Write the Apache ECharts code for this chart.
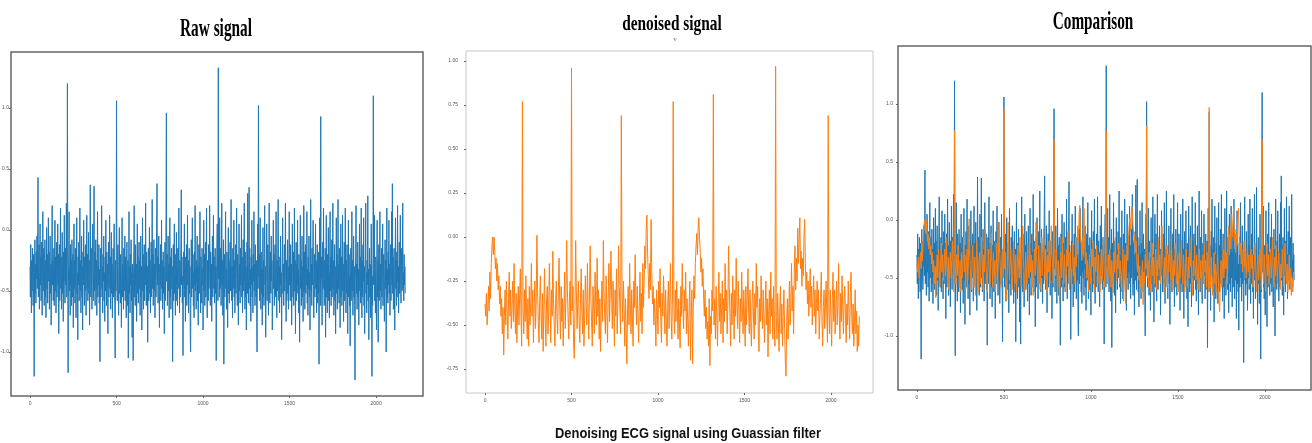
<!DOCTYPE html>
<html>
<head>
<meta charset="utf-8">
<script src="https://cdn.jsdelivr.net/npm/echarts@6/dist/echarts.min.js"></script>
<style>
  html, body { margin: 0; padding: 0; background: #fff; }
  #chart { width: 1312px; height: 443px; }
</style>
</head>
<body>
<div id="chart"></div>
<script>
// ECG trace, raw recording (one value every RAW_STEP samples)
const RAW_STEP = 2;
const rawSignal = [
  -0.30, -0.55, -0.12, -0.42, -0.68, -0.25, -0.50, -0.15, -0.38, -0.62, -0.20, -0.45, -1.20, -0.35, -0.08, -0.52, -0.28, -0.60, -0.18, -0.40,
  -0.05, -0.48, -0.25, 0.43, -0.55, -0.30, -0.12, -0.65, -0.35, 0.05, -0.45, -0.22, -0.58, -0.10, -0.38, -0.70, -0.28, 0.15, -0.50, -0.32,
  -0.15, -0.62, -0.40, -0.08, -0.55, -0.25, -0.72, -0.35, 0.02, -0.48, -0.20, -0.60, -0.30, 0.10, -0.42, -0.18, -0.65, -0.38, -0.05, -0.52,
  -0.28, -0.78, -0.40, -0.12, 0.20, -0.45, -0.25, -0.58, -0.35, -0.15, -0.62, -0.30, 0.08, -0.50, -0.22, -0.68, -0.40, -0.10, -0.55, -0.32,
  0.05, -0.45, -0.20, -0.85, -0.38, -0.12, -0.58, -0.28, 0.18, -0.48, -0.22, -0.65, -0.35, -0.02, -0.52, -0.30, -0.75, -0.18, -0.42, 0.12,
  -0.38, -0.60, -0.15, -0.45, -0.28, 0.22, -0.55, -0.20, 1.20, -0.30, -1.17, -0.42, -0.18, 0.15, -0.50, -0.32, -0.70, -0.12, -0.45, -0.25,
  -0.62, -0.08, -0.38, -0.55, -0.20, -0.80, -0.35, 0.05, -0.48, -0.25, -0.60, -0.15, -0.42, -0.72, -0.28, 0.10, -0.52, -0.35, -0.90, -0.22,
  -0.45, -0.10, -0.58, -0.32, 0.18, -0.50, -0.25, -0.68, -0.40, -0.05, -0.55, -0.30, -0.82, -0.18, -0.45, 0.08, -0.38, -0.62, -0.22, -0.50,
  -0.12, -0.40, -0.70, -0.28, 0.12, -0.48, -0.20, -0.58, -0.35, -0.02, -0.52, -0.25, -0.78, -0.40, 0.37, -0.30, -0.55, -0.15, -0.45, -0.65,
  -0.22, 0.05, -0.42, -0.58, -0.28, 0.36, -0.50, -0.18, -0.62, -0.35, -0.08, -0.48, -0.25, -0.70, -0.38, 0.15, -0.55, -0.30, -0.45, -0.12,
  -0.60, -0.32, -1.08, -0.40, -0.15, -0.55, -0.25, 0.20, -0.48, -0.30, -0.68, -0.20, -0.42, -0.05, -0.58, -0.35, -0.75, -0.22, -0.50, 0.08,
  -0.38, -0.62, -0.18, -0.45, -0.28, -0.85, -0.40, -0.10, -0.55, -0.30, 0.12, -0.48, -0.22, -0.65, -0.35, -0.02, -0.52, -0.28, -0.72, -0.42,
  -0.15, -0.55, -0.32, 0.05, -0.45, -0.62, -1.05, -0.25, -0.50, -0.18, 1.06, -0.40, -0.58, -0.30, -0.12, -0.48, -0.70, -0.25, 0.02, -0.52,
  -0.35, -0.60, -0.20, -0.45, -0.80, -0.30, 0.10, -0.55, -0.28, -0.42, -0.65, -0.15, -0.50, -0.35, -0.05, -0.58, -0.22, -0.48, -0.72, -0.32,
  -0.10, -0.45, -0.62, -0.25, -1.05, -0.38, 0.15, -0.52, -0.30, -0.68, -0.20, -0.45, -0.08, -0.58, -0.35, -0.88, -0.28, -0.50, -1.07, -0.40,
  -0.18, 0.20, -0.55, -0.32, -0.62, -0.12, -0.45, -0.28, -0.75, -0.40, 0.05, -0.52, -0.22, -0.60, -0.35, -0.10, -0.48, -0.25, -0.70, -0.38,
  -0.05, -0.55, -0.30, -0.82, -0.42, 0.10, -0.50, -0.20, -0.65, -0.35, -0.12, -0.58, -0.28, -0.45, 0.22, -0.40, -0.62, -0.18, -0.50, -0.30,
  -0.92, -0.45, -0.15, -0.58, -0.35, 0.02, -0.52, -0.25, -0.68, -0.40, -0.10, -0.55, -0.30, 0.25, -0.48, -0.20, -0.62, -0.38, -0.08, -0.50,
  -0.28, -0.72, -0.42, -0.15, -0.55, -0.32, 0.12, 0.38, -0.45, -0.22, -0.60, -0.35, -0.05, -0.50, -0.80, -0.28, -0.45, -0.12, -0.58, -0.38,
  0.08, -0.48, -0.25, -0.65, -0.40, -0.18, -0.52, -0.30, -0.85, -0.45, -0.10, -0.58, -0.32, 0.15, 0.96, -0.42, -0.20, -0.62, -0.35, -0.05,
  -0.50, -0.28, -0.72, -0.40, 0.10, -0.55, -0.22, -0.65, -0.35, -0.15, -0.48, -0.30, -1.08, -0.45, -0.12, -0.58, -0.25, 0.05, -0.52, -0.38,
  -0.70, -0.20, -0.45, -0.02, -0.58, -0.32, -0.62, -0.15, -0.48, -0.28, 0.18, -0.42, -0.68, -0.25, -0.55, -0.35, -0.10, 0.33, -0.45, -0.22,
  -0.60, -0.38, -1.03, -0.50, -0.18, -0.42, 0.05, -0.55, -0.30, -0.75, -0.22, -0.48, -0.12, -0.62, -0.35, 0.12, -0.45, -0.25, -0.68, -0.40,
  -0.15, -0.52, -0.30, -0.85, -1.00, -0.40, -0.08, -0.55, -0.28, 0.10, -0.48, -0.20, -0.62, -0.35, -0.72, -0.18, -0.45, 0.20, -0.50, -0.32,
  -0.65, -0.25, -0.42, -0.05, -0.58, -0.30, -0.78, -0.38, -0.12, -0.52, -0.25, 0.15, -0.48, -0.68, -0.22, -0.40, -0.60, -0.15, -0.45, -0.32,
  -0.82, -0.28, 0.08, -0.50, -0.20, -0.62, -0.38, -0.10, -0.55, -0.30, 0.18, -0.45, -0.72, -0.25, -0.40, -0.58, -0.12, -0.48, -0.35, 0.20,
  -0.30, -0.62, -0.18, -0.45, -0.28, -0.75, -0.40, -0.05, -0.55, -0.32, 0.12, -0.48, -0.22, -0.60, -0.38, -0.15, -0.52, -0.30, -1.07, -0.42,
  -0.12, 0.05, -0.35, -0.58, 1.33, -0.40, -0.22, -0.55, 0.10, -0.30, -0.48, -0.15, -0.62, -0.38, 0.22, -0.45, -0.25, -0.70, -0.32, -0.08,
  -1.10, -0.42, -0.20, -0.55, -0.28, 0.15, -0.48, -0.32, -0.65, -0.18, -0.45, -0.80, -0.30, 0.02, -0.52, -0.25, -0.60, -0.38, -0.10, -0.50,
  -0.22, 0.25, -0.45, -0.58, -0.30, -0.72, -0.15, -0.48, -0.35, 0.08, -0.55, -0.25, -0.68, -0.40, -0.12, -0.52, -0.30, 0.18, -0.45, -0.62,
  -0.20, -0.42, -0.78, -0.35, 0.05, -0.50, -0.28, -0.60, -0.15, -0.45, -0.32, 0.12, -0.55, -0.22, -0.68, -0.38, -0.08, -0.50, -0.30, 0.22,
  -0.42, -0.65, -0.18, -0.55, -0.30, -0.82, -0.40, -0.10, -0.52, 0.30, -0.35, -0.60, -0.25, 0.35, -0.48, -0.15, -0.62, -0.32, -0.75, -0.22,
  -0.45, 0.08, -0.55, -0.30, -0.68, -0.20, -0.42, 0.15, -0.50, -0.28, -0.62, -0.12, -0.40, -0.55, -0.25, -0.72, -1.00, -0.35, 0.05, -0.48,
  1.02, -0.38, -0.20, -0.58, -0.30, 0.10, -0.45, -0.65, -0.18, -0.52, -0.32, -0.78, -0.40, 0.02, -0.55, -0.25, -0.62, -0.15, 0.20, -0.45,
  -0.30, -0.88, -0.50, -0.22, 0.05, -0.58, -0.35, -0.12, -0.48, -0.70, -0.28, 0.22, -0.45, -0.60, -0.18, -0.38, -0.52, -0.05, -0.42, -0.25,
  -0.82, -0.55, -0.30, 0.08, -0.48, -0.20, -0.62, -0.38, -0.12, -0.55, -0.32, 0.15, -0.45, -0.72, -0.25, -0.50, -0.15, 0.25, -0.40, -0.58,
  -0.30, -0.68, -0.22, -0.45, -0.05, -0.55, -0.35, -0.90, -0.42, -0.18, 0.10, -0.52, -0.28, -0.62, -0.40, -0.12, -0.50, -0.32, 0.22, -0.45,
  -0.75, -0.25, -0.58, -0.38, -0.08, -0.52, -0.30, -0.65, -0.20, 0.15, -0.45, -0.35, -0.58, -0.12, -0.42, -0.28, -0.78, -0.48, 0.05, -0.30,
  -0.55, -0.18, -0.62, -0.40, 0.18, -0.50, -0.25, -0.85, -0.35, -0.10, -0.58, -0.28, -0.45, 0.08, -0.52, -0.32, -0.68, -0.20, -0.42, -0.92,
  -0.38, 0.12, -0.48, -0.25, -0.62, -0.35, -0.05, -0.55, -0.30, -0.75, -0.42, 0.20, -0.50, -0.18, -0.65, -0.38, -0.12, -0.52, -0.28, -0.45,
  0.15, -0.60, -0.32, -0.70, -0.22, -0.48, -0.05, -0.55, -0.35, -0.82, -0.40, 0.25, -0.50, -0.28, -0.62, -0.15, -0.45, -0.30, 0.08, -0.58,
  -0.72, -0.38, -0.20, -0.55, -0.32, 0.05, -0.48, -0.25, -0.68, -0.42, -0.12, -0.60, -0.30, -0.52, -0.18, -1.10, -0.45, 0.10, -0.35, -0.62,
  0.93, -0.40, -0.22, -0.55, -0.78, -0.32, -0.10, -0.48, 0.18, -0.38, -0.62, -0.25, -0.50, -0.15, -0.88, -0.42, 0.12, -0.55, -0.30, -0.68,
  -0.20, -0.45, 0.02, -0.58, -0.35, -0.72, -0.28, 0.15, -0.50, -0.22, -0.62, -0.40, -0.08, -0.55, -0.32, 0.22, -0.48, -0.25, -0.70, -0.38,
  -0.12, -0.58, -0.30, -0.85, -0.45, 0.10, -0.52, -0.20, -0.65, -0.35, 0.25, -0.48, -0.28, -0.60, -0.15, -0.42, -0.80, -0.32, 0.05, -0.55,
  -0.22, -0.62, -0.40, 0.12, -0.50, -0.28, -0.75, -0.35, -0.10, -0.58, -0.30, 0.18, -0.45, -0.68, -0.25, -0.52, -0.12, -0.40, -0.85, -0.30,
  0.08, -0.55, -0.20, -0.62, -0.38, -0.95, -0.45, -0.15, -0.58, -0.32, 0.15, -0.50, -0.25, -0.70, -0.40, -0.05, -0.55, -0.30, -0.62, -1.23,
  -0.42, -0.18, 0.20, -0.52, -0.28, -0.65, -0.38, -0.10, -0.55, -0.32, -0.78, -0.45, 0.05, -0.50, -0.22, -0.60, -0.35, 0.18, -0.48, -0.72,
  -0.25, -0.55, -0.12, -0.42, 0.10, -0.62, -0.30, -0.85, -0.48, -0.18, 0.22, -0.52, -0.35, -0.68, -0.25, -0.45, 0.28, -0.58, -0.32, -0.90,
  -0.40, -0.15, -0.55, -0.28, -0.72, -0.45, 0.05, -0.50, -1.20, -0.38, -0.62, -0.20, 1.10, -0.45, -0.30, 0.12, -0.58, -0.35, -0.68, -0.22,
  -0.48, -0.82, -0.30, 0.08, -0.55, -0.25, -0.92, -0.40, -0.12, -0.58, -0.35, 0.15, -0.50, -0.28, -0.65, -0.42, -0.15, -0.55, -0.32, 0.05,
  -0.62, -0.40, -0.20, -0.52, -0.75, -0.30, -0.08, -0.48, -0.25, -1.00, -0.42, 0.18, -0.55, -0.32, -0.60, -0.18, -0.45, 0.08, -0.52, -0.28,
  -0.70, -0.38, -0.12, -0.58, -0.30, 0.15, -0.45, 0.38, -0.52, -0.22, -0.65, -0.40, -0.15, -0.55, -0.82, -0.32, 0.10, -0.48, -0.25, -0.62,
  -0.18, -0.42, 0.20, -0.55, -0.30, -0.68, -0.38, -0.10, -0.52, -0.25, 0.12, -0.45, -0.60, -0.32, -0.15, -0.50, -0.28, 0.22, -0.48, -0.35,
  -0.58, -0.20, -0.45, -0.30, -0.52
];

// Same trace after the Gaussian filter (one value every DENOISED_STEP samples)
const DENOISED_STEP = 4;
const denoisedSignal = [
  -0.38, -0.45, -0.32, -0.50, -0.40, -0.28, -0.42, -0.20, -0.35, -0.15, -0.05, 0.00, -0.10, 0.00, -0.08, -0.18, -0.12, -0.25, -0.15, -0.30,
  -0.22, -0.38, -0.28, -0.45, -0.35, -0.55, -0.40, -0.67, -0.45, -0.30, -0.50, -0.25, -0.42, -0.58, -0.35, -0.20, -0.45, -0.30, -0.52, -0.38,
  -0.25, -0.48, -0.15, -0.40, -0.55, -0.32, -0.60, -0.42, -0.28, -0.50, -0.35, -0.18, -0.45, -0.62, 0.77, -0.40, -0.55, -0.30, -0.48, -0.22,
  -0.42, -0.58, -0.35, -0.62, -0.28, -0.50, -0.38, -0.15, -0.45, -0.30, -0.60, -0.40, -0.25, -0.52, -0.35, 0.01, -0.30, -0.48, -0.60, -0.38,
  -0.22, -0.45, -0.58, -0.32, -0.65, -0.40, -0.18, -0.48, -0.62, -0.35, -0.28, -0.55, -0.42, -0.15, -0.38, -0.60, -0.30, -0.45, -0.08, -0.35,
  -0.50, -0.62, -0.38, -0.25, -0.45, -0.55, -0.30, -0.12, -0.40, -0.58, -0.28, -0.48, -0.35, -0.62, -0.42, -0.20, -0.52, -0.32, -0.02, -0.30,
  -0.45, -0.58, -0.35, -0.25, -0.50, 0.96, -0.42, -0.28, -0.60, -0.69, -0.40, -0.02, -0.30, -0.52, -0.38, -0.25, -0.48, -0.60, -0.35, -0.18,
  -0.42, -0.55, -0.30, -0.62, -0.45, -0.22, -0.38, -0.50, -0.15, -0.42, -0.58, -0.30, -0.05, -0.35, -0.48, -0.62, -0.28, -0.40, -0.55, -0.20,
  -0.38, -0.50, -0.12, -0.45, -0.30, -0.58, -0.35, -0.65, -0.42, -0.25, -0.48, -0.02, -0.30, -0.45, -0.55, -0.22, -0.40, -0.60, -0.35, -0.15,
  -0.48, -0.30, -0.08, -0.35, -0.52, -0.25, -0.40, -0.62, -0.30, -0.45, -0.18, -0.55, -0.38, -0.05, -0.28, -0.42, -0.55, 0.69, -0.30, -0.48,
  -0.25, -0.40, -0.62, -0.35, -0.52, -0.72, -0.40, -0.28, -0.50, -0.15, -0.38, -0.55, -0.30, -0.45, -0.62, -0.25, -0.40, -0.10, -0.35, -0.50,
  -0.28, -0.45, -0.60, -0.38, -0.20, -0.48, -0.32, -0.55, -0.15, -0.40, -0.25, -0.05, -0.18, 0.05, 0.125, -0.10, -0.22, -0.35, -0.15, -0.30,
  0.10, -0.20, -0.38, -0.28, -0.50, -0.35, -0.45, -0.62, -0.30, -0.42, -0.55, -0.25, -0.40, -0.18, -0.48, -0.60, -0.32, -0.45, -0.22, -0.38,
  -0.55, -0.30, -0.48, -0.62, -0.40, -0.25, -0.52, -0.35, -0.15, -0.45, -0.58, -0.30, 0.77, -0.42, -0.55, -0.30, -0.48, -0.25, -0.40, -0.58,
  -0.35, -0.50, -0.63, -0.28, -0.45, -0.15, -0.38, -0.52, -0.30, -0.42, -0.20, -0.55, -0.35, -0.48, -0.62, -0.40, -0.25, -0.70, -0.45, -0.30,
  -0.72, -0.40, -0.22, -0.35, -0.15, -0.05, 0.02, -0.10, 0.05, 0.11, 0.00, -0.08, -0.20, -0.12, -0.28, -0.18, -0.35, -0.45, -0.30, -0.52,
  -0.40, -0.58, -0.48, -0.62, -0.35, -0.73, -0.45, -0.55, -0.30, -0.42, 0.81, -0.50, -0.35, -0.58, -0.28, -0.45, -0.62, -0.38, -0.20, -0.48,
  -0.32, -0.55, -0.40, -0.25, -0.60, -0.35, -0.48, -0.15, -0.42, -0.30, -0.55, -0.38, -0.05, -0.28, -0.45, -0.62, -0.32, -0.50, -0.22, -0.40,
  -0.58, -0.30, -0.45, -0.12, -0.38, -0.52, -0.25, -0.42, -0.60, -0.35, -0.48, -0.20, -0.40, -0.55, -0.30, -0.45, -0.62, -0.28, -0.50, -0.35,
  -0.18, -0.42, -0.55, -0.30, -0.48, -0.62, -0.38, -0.25, -0.45, -0.58, -0.32, -0.50, -0.15, -0.40, -0.28, -0.55, -0.65, -0.35, -0.48, -0.22,
  -0.40, -0.52, -0.30, -0.45, -0.60, -0.38, -0.25, -0.50, -0.35, -0.68, -0.42, -0.30, -0.55, -0.20, -0.45, -0.35, -0.58, -0.28, -0.48, -0.62,
  0.97, -0.45, -0.58, -0.32, -0.50, -0.65, -0.40, -0.28, -0.55, -0.38, -0.62, -0.45, -0.30, -0.52, -0.70, -0.79, -0.48, -0.35, -0.58, -0.42,
  -0.25, -0.50, -0.38, -0.15, -0.42, -0.28, -0.55, -0.20, -0.05, -0.30, -0.12, -0.25, 0.05, -0.15, -0.02, 0.11, -0.18, -0.08, -0.28, -0.12,
  -0.22, 0.00, 0.10, -0.15, -0.30, -0.20, -0.38, -0.25, -0.45, -0.32, -0.18, -0.40, -0.28, -0.50, -0.35, -0.22, -0.45, -0.30, -0.55, -0.38,
  -0.25, -0.42, -0.30, -0.58, -0.45, -0.35, -0.20, -0.48, -0.62, -0.40, -0.30, -0.52, -0.38, -0.25, -0.45, -0.60, 0.69, -0.42, -0.55, -0.30,
  -0.45, -0.62, -0.35, -0.20, -0.48, -0.30, -0.55, -0.40, -0.25, -0.50, -0.38, -0.15, -0.45, -0.58, -0.32, -0.48, -0.22, -0.40, -0.55, -0.35,
  -0.28, -0.45, -0.60, -0.38, -0.50, -0.25, -0.42, -0.58, -0.32, -0.20, -0.45, -0.55, -0.38, -0.62, -0.48, -0.30, -0.55, -0.42, -0.65, -0.50,
  -0.62, -0.45
];

// Tick labels
const xTicks = [0, 500, 1000, 1500, 2000];
const yTicksWide = [-1.0, -0.5, 0.0, 0.5, 1.0];
const yTicksDenoised = [-0.75, -0.5, -0.25, 0.0, 0.25, 0.5, 0.75, 1.0];

const panelTitles = ['Raw signal', 'denoised signal', 'Comparison'];
const figureTitle = 'Denoising ECG signal using Guassian filter';

const BLUE = '#1f77b4';
const ORANGE = '#ff7f0e';

const toPoints = (values, step) => values.map((v, i) => [i * step, v]);
const rawPoints = toPoints(rawSignal, RAW_STEP);
const denoisedPoints = toPoints(denoisedSignal, DENOISED_STEP);

const chart = echarts.init(document.getElementById('chart'), null, { renderer: 'canvas' });

const tickLabel = { fontSize: 5, color: '#555', fontFamily: '"Liberation Sans", sans-serif' };

function xAxisFor(gridIndex, min, max) {
  return {
    type: 'value', gridIndex, min, max,
    axisLine: { show: false, onZero: false },
    splitLine: { show: false },
    axisTick: { show: true, length: 2, lineStyle: { color: '#666', width: 1 }, customValues: xTicks },
    axisLabel: Object.assign({ customValues: xTicks, margin: 5, formatter: v => String(v) }, tickLabel)
  };
}
function yAxisFor(gridIndex, min, max, ticks, digits, margin) {
  return {
    type: 'value', gridIndex, min, max,
    axisLine: { show: false, onZero: false },
    splitLine: { show: false },
    axisTick: { show: true, length: 2, lineStyle: { color: '#666', width: 1 }, customValues: ticks },
    axisLabel: Object.assign({ customValues: ticks, margin, formatter: v => v.toFixed(digits) }, tickLabel)
  };
}
function lineSeries(data, color, xi, yi, z) {
  return {
    type: 'line', data, xAxisIndex: xi, yAxisIndex: yi, z: z || 2,
    showSymbol: false, symbol: 'none', sampling: null, animation: false,
    lineStyle: { color, width: 1 }
  };
}

function titleText(text, x, y, size, sx) {
  return {
    type: 'text', x, y, scaleX: sx, silent: true,
    style: {
      text, fill: '#000', align: 'center', verticalAlign: 'middle',
      font: 'bold ' + size + 'px "Liberation Serif", "Times New Roman", serif'
    }
  };
}

const gridBase = { show: true, backgroundColor: 'transparent', containLabel: false, outerBoundsMode: 'none' };

chart.setOption({
  backgroundColor: '#fff',
  animation: false,
  grid: [
    Object.assign({ left: 11, top: 52, width: 412, height: 344, borderColor: '#666', borderWidth: 1.5 }, gridBase),
    Object.assign({ left: 466, top: 51, width: 407, height: 342, borderColor: '#c8c8c8', borderWidth: 1 }, gridBase),
    Object.assign({ left: 898, top: 46, width: 413, height: 344, borderColor: '#666', borderWidth: 1.5 }, gridBase)
  ],
  xAxis: [
    xAxisFor(0, -110, 2271),
    xAxisFor(1, -110, 2243),
    xAxisFor(2, -109, 2265)
  ],
  yAxis: [
    yAxisFor(0, -1.361, 1.459, yTicksWide, 1, 2),
    yAxisFor(1, -0.886, 1.057, yTicksDenoised, 2, 8),
    yAxisFor(2, -1.466, 1.5, yTicksWide, 1, 5)
  ],
  series: [
    lineSeries(rawPoints, BLUE, 0, 0),
    lineSeries(denoisedPoints, ORANGE, 1, 1),
    lineSeries(rawPoints, BLUE, 2, 2, 2),
    lineSeries(denoisedPoints, ORANGE, 2, 2, 3)
  ],
  graphic: [
    titleText(panelTitles[0], 216, 29, 26, 0.59),
    titleText(panelTitles[1], 672, 24, 22, 0.70),
    titleText(panelTitles[2], 1093, 23, 25, 0.61),
    {
      type: 'text', x: 675, y: 39, silent: true,
      style: { text: 'v', fill: '#666', align: 'center', verticalAlign: 'middle', font: '7px "Liberation Serif", serif' }
    },
    {
      type: 'text', x: 688, y: 434, scaleX: 0.86, silent: true,
      style: {
        text: figureTitle, fill: '#111', align: 'center', verticalAlign: 'middle',
        font: 'bold 15px "Liberation Sans", Arial, sans-serif'
      }
    }
  ]
});
</script>
</body>
</html>
